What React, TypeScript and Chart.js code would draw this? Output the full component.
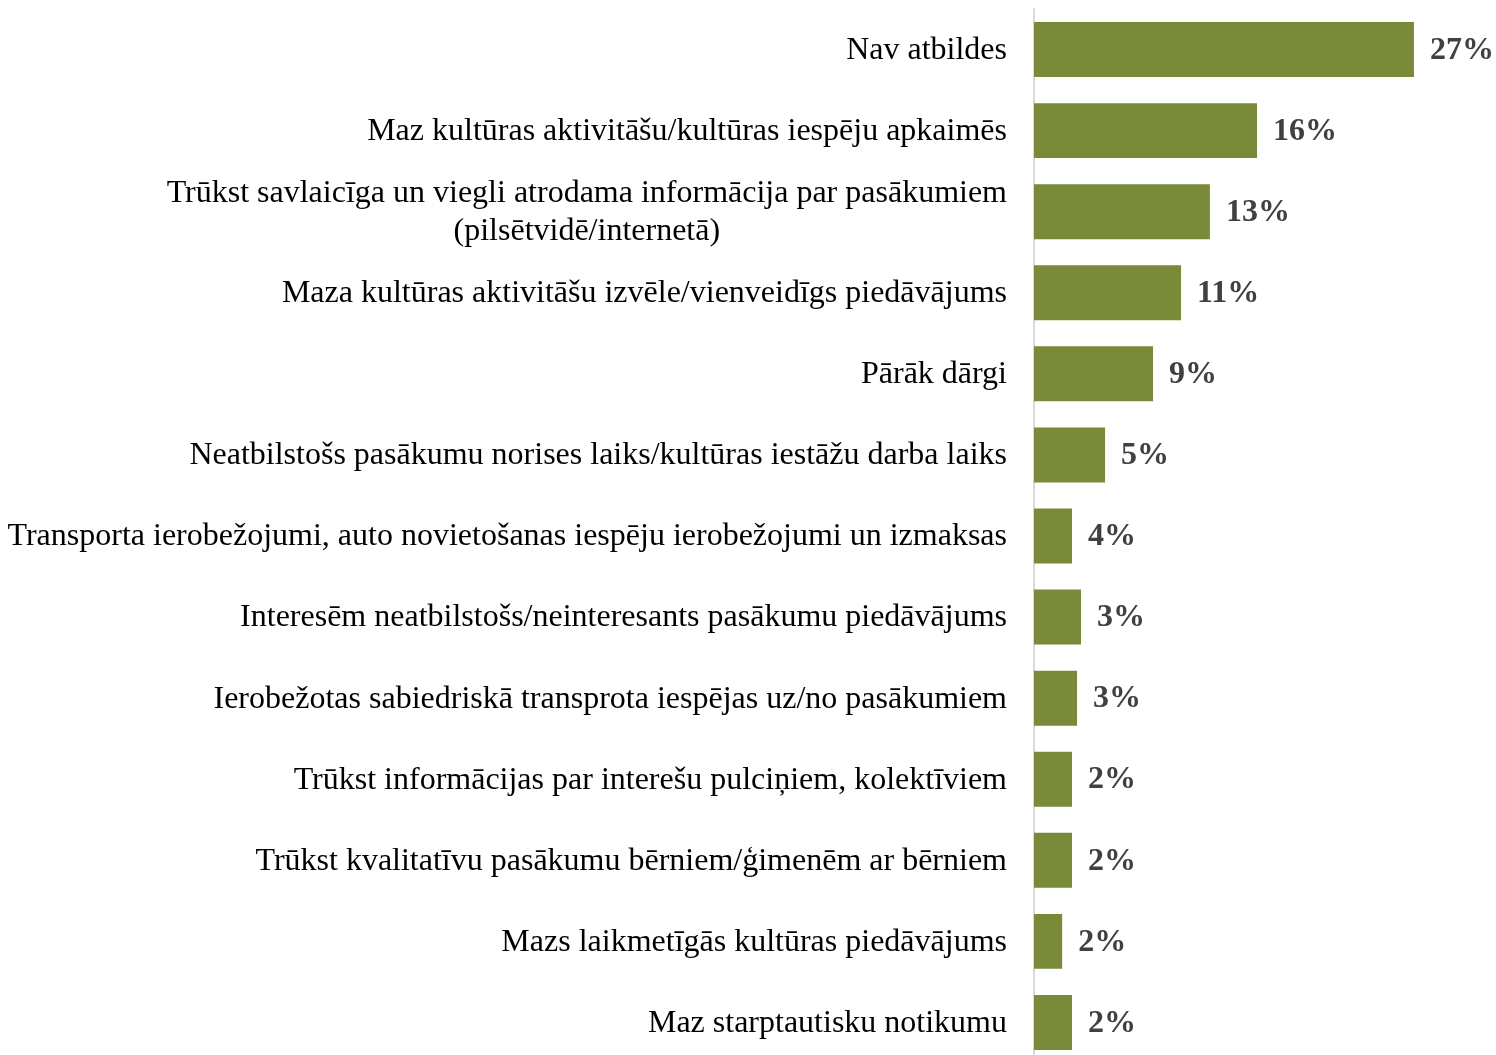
import React, { useEffect, useRef } from "react";
import { Chart, registerables } from "chart.js";

Chart.register(...registerables);

const categories: (string | string[])[] = [
  "Nav atbildes",
  "Maz kultūras aktivitāšu/kultūras iespēju apkaimēs",
  ["Trūkst savlaicīga un viegli atrodama informācija par pasākumiem", "(pilsētvidē/internetā)"],
  "Maza kultūras aktivitāšu izvēle/vienveidīgs piedāvājums",
  "Pārāk dārgi",
  "Neatbilstošs pasākumu norises laiks/kultūras iestāžu darba laiks",
  "Transporta ierobežojumi, auto novietošanas iespēju ierobežojumi un izmaksas",
  "Interesēm neatbilstošs/neinteresants pasākumu piedāvājums",
  "Ierobežotas sabiedriskā transprota iespējas uz/no pasākumiem",
  "Trūkst informācijas par interešu pulciņiem, kolektīviem",
  "Trūkst kvalitatīvu pasākumu bērniem/ģimenēm ar bērniem",
  "Mazs laikmetīgās kultūras piedāvājums",
  "Maz starptautisku notikumu",
];

const barValues: number[] = [27.0, 15.85, 12.5, 10.45, 8.46, 5.05, 2.7, 3.34, 3.06, 2.7, 2.7, 2.0, 2.7];

const valueLabels: string[] = ["27%", "16%", "13%", "11%", "9%", "5%", "4%", "3%", "3%", "2%", "2%", "2%", "2%"];

const BAR_COLOR = "#798A38";

const textPlugin = {
  id: "customText",
  afterDraw(chart: any) {
    const ctx = chart.ctx as CanvasRenderingContext2D;
    const yScale = chart.scales.y;
    const right = chart.chartArea.left - 27;
    ctx.save();
    ctx.font = '32px "Liberation Serif"';
    ctx.fillStyle = "#000000";
    ctx.textBaseline = "middle";
    ctx.textAlign = "center";
    const lh = 38;
    categories.forEach((lab, i) => {
      const lines = Array.isArray(lab) ? lab : [lab];
      const w = Math.max(...lines.map((l) => ctx.measureText(l).width));
      const cx = right - w / 2;
      const yc = yScale.getPixelForTick(i) + 1;
      lines.forEach((l, j) => {
        ctx.fillText(l, cx, yc + (j - (lines.length - 1) / 2) * lh);
      });
    });
    const meta = chart.getDatasetMeta(0);
    ctx.font = 'bold 32px "Liberation Serif"';
    ctx.fillStyle = "#404040";
    ctx.textAlign = "left";
    meta.data.forEach((bar: any, i: number) => {
      ctx.fillText(valueLabels[i], bar.x + 16, bar.y + 1);
    });
    ctx.restore();
  },
};

export default function App() {
  const canvasRef = useRef<HTMLCanvasElement | null>(null);

  useEffect(() => {
    if (!canvasRef.current) return;
    const chart = new Chart(canvasRef.current, {
      type: "bar",
      data: {
        labels: categories as any,
        datasets: [
          {
            data: barValues,
            backgroundColor: BAR_COLOR,
            borderWidth: 0,
            barPercentage: 0.678,
            categoryPercentage: 1,
          },
        ],
      },
      options: {
        indexAxis: "y",
        animation: false,
        responsive: false,
        maintainAspectRatio: false,
        layout: { padding: { top: 9, bottom: 0, left: 0, right: 0 } },
        plugins: {
          legend: { display: false },
          tooltip: { enabled: false },
          title: { display: false },
        },
        scales: {
          x: {
            display: false,
            min: 0,
            max: 32.83,
          },
          y: {
            display: true,
            grid: { display: false },
            border: { display: true, color: "#d9d9d9", width: 2 },
            ticks: { display: false },
            afterFit: (scale: any) => {
              scale.width = 1034;
            },
          },
        },
      },
      plugins: [textPlugin],
    });
    return () => chart.destroy();
  }, []);

  return (
    <div
      style={{
        position: "absolute",
        left: 0,
        top: 0,
        width: 1496,
        height: 1055,
        overflow: "hidden",
        background: "#ffffff",
      }}
    >
      <canvas ref={canvasRef} width={1496} height={1063} style={{ display: "block" }} />
    </div>
  );
}
